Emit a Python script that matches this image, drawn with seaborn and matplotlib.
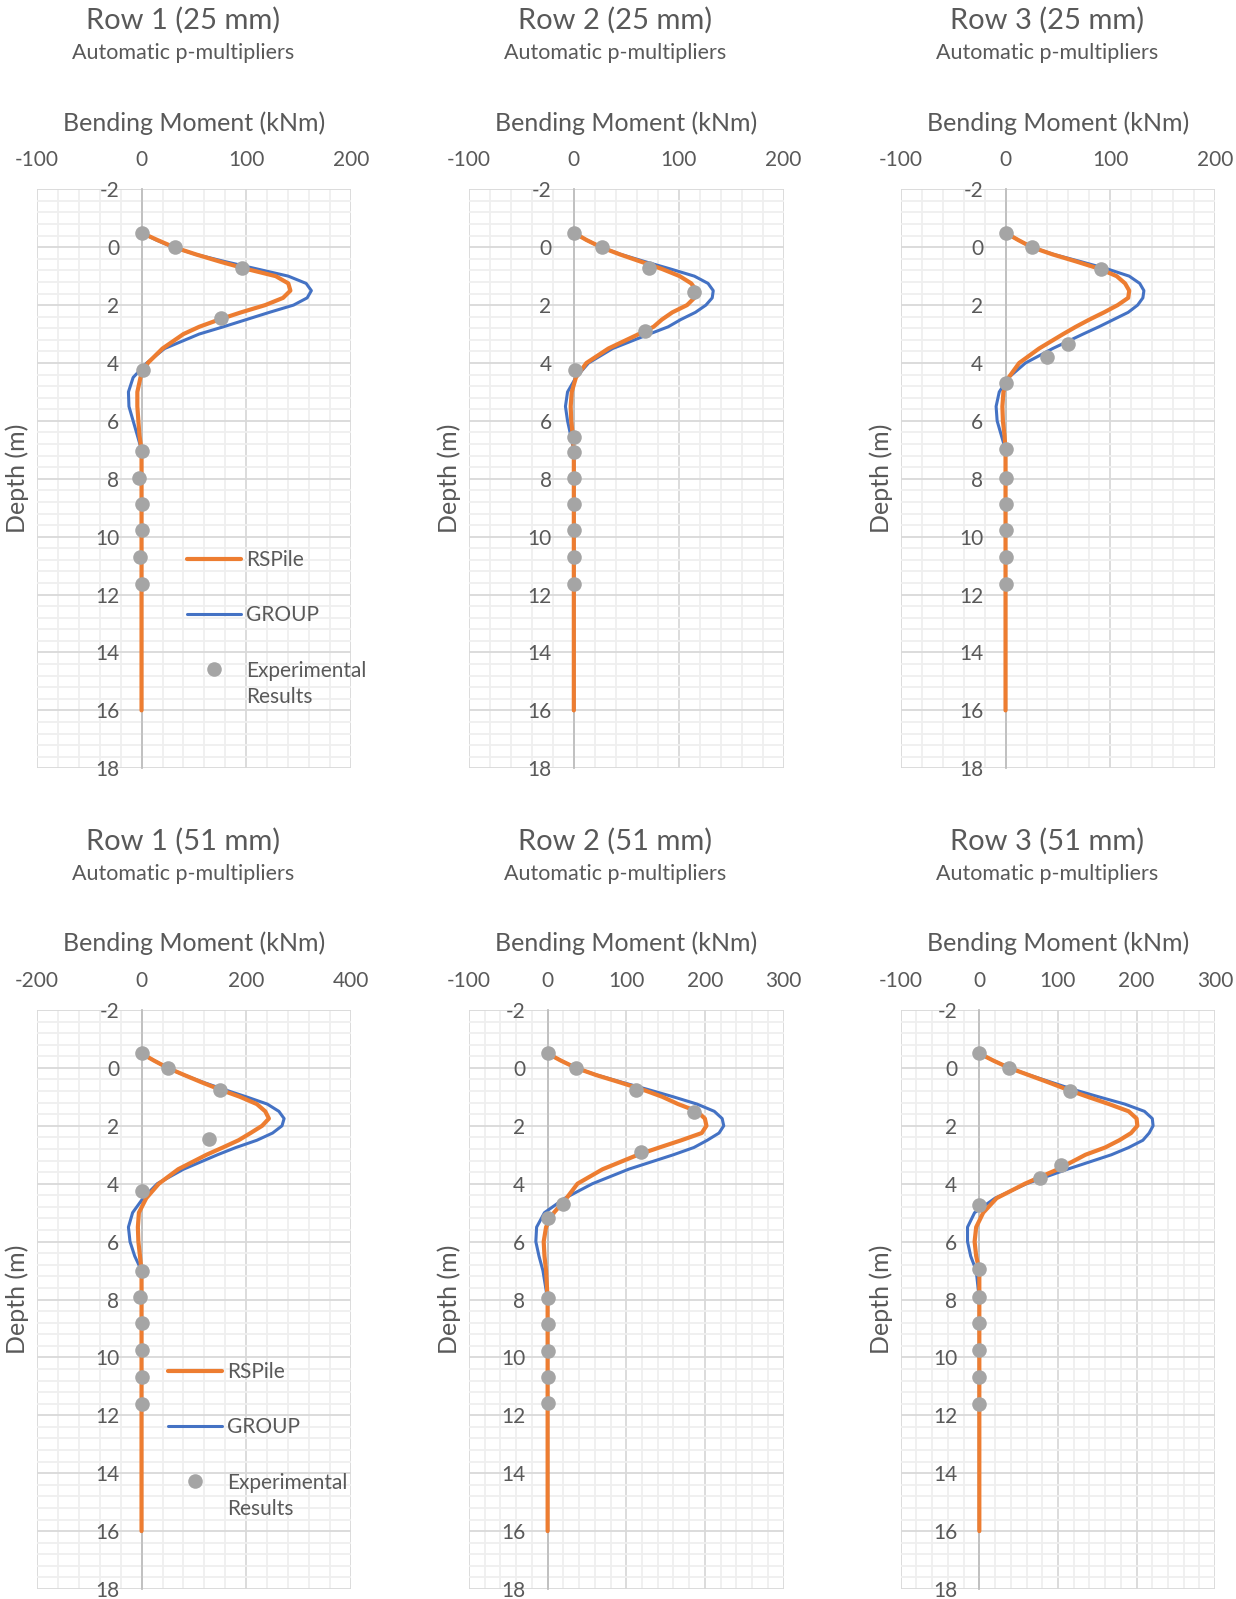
import matplotlib
matplotlib.use("Agg")
import matplotlib.pyplot as plt
import seaborn as sns
import pandas as pd
from matplotlib.ticker import MultipleLocator
from matplotlib.legend_handler import HandlerPathCollection

# depth grid of the model curves (m)
depth_model = [-0.5, -0.25, 0, 0.25, 0.5, 0.75, 1.0, 1.25, 1.5, 1.75, 2.0, 2.25, 2.5,
               2.75, 3.0, 3.5, 4.0, 4.5, 5.0, 5.5, 6.0, 6.5, 7.0, 8.0, 16.0]

# RSPile bending moments (kNm)
rspile_r1_25 = [0, 15, 31, 52, 75, 100, 128, 140, 142, 135, 118, 95, 74, 55, 40, 20, 6, -1, -4, -4, -3, -2, 0, 0, 0]
rspile_r2_25 = [0, 12, 26, 44, 64, 84, 101, 112, 117, 115, 108, 94, 84, 76, 62, 33, 12, 2, -2, -3, -2.5, -1, 0, 0, 0]
rspile_r3_25 = [0, 12, 25, 45, 68, 90, 106, 114, 118, 117, 107, 94, 80, 67, 55, 32, 13, 3, -2, -3, -2.5, -1, 0, 0, 0]
rspile_r1_51 = [0, 24, 50, 82, 115, 150, 188, 220, 236, 243, 230, 208, 185, 155, 124, 70, 33, 9, -5, -7, -6, -3, 0, 0, 0]
rspile_r2_51 = [0, 17, 36, 62, 92, 121, 146, 166, 190, 200, 202, 196, 170, 142, 115, 70, 38, 24, 8, -2, -5, -4, -2, 0, 0]
rspile_r3_51 = [0, 18, 38, 63, 88, 112, 138, 165, 190, 200, 201, 193, 178, 160, 135, 100, 58, 22, 5, -4, -6, -4, 0, 0, 0]

# GROUP bending moments (kNm)
group_r1_25 = [0, 14, 30, 52, 80, 110, 140, 157, 162, 158, 145, 122, 100, 78, 55, 22, 5, -8, -12.5, -12, -8, -4, 0, 0, 0]
group_r2_25 = [0, 12, 26, 45, 68, 92, 115, 128, 133, 132, 126, 116, 102, 90, 72, 37, 14, 2, -6, -8, -6, -3, 0, 0, 0]
group_r3_25 = [0, 12, 25, 46, 72, 97, 118, 128, 132, 131, 126, 117, 103, 89, 74, 45, 19, 3, -6, -9, -8, -4, 0, 0, 0]
group_r1_51 = [0, 24, 50, 82, 118, 158, 200, 240, 262, 272, 268, 250, 220, 180, 145, 80, 30, 3, -17, -25, -22, -13, 0, 0, 0]
group_r2_51 = [0, 17, 36, 63, 95, 128, 160, 190, 212, 222, 224, 218, 203, 186, 160, 103, 57, 22, -4, -14, -15, -11, -6, 0, 0]
group_r3_51 = [0, 18, 38, 64, 92, 120, 152, 185, 210, 220, 221, 216, 208, 190, 168, 112, 60, 20, -6, -15, -15, -11, -4, 0, 0]

# experimental results
exp_depth_r1_25 = [-0.5, 0, 0.72, 2.43, 4.24, 7.04, 7.96, 8.87, 9.76, 10.71, 11.63]
exp_mom_r1_25 = [0, 32, 96, 76, 1, 0, -2, 0, 0, -1, 0]
exp_depth_r2_25 = [-0.5, 0, 0.73, 1.54, 2.89, 4.25, 6.55, 7.07, 7.96, 8.87, 9.76, 10.71, 11.63]
exp_mom_r2_25 = [0, 26.5, 72, 115, 68, 1, 0, 0, 0, 0, 0, 0, 0]
exp_depth_r3_25 = [-0.5, 0, 0.75, 3.33, 3.78, 4.68, 6.98, 7.96, 8.87, 9.76, 10.71, 11.63]
exp_mom_r3_25 = [0, 25, 91, 60, 40, 0, 0, 0, 0, 0, 0, 0]
exp_depth_r1_51 = [-0.5, 0, 0.75, 2.46, 4.25, 7.03, 7.92, 8.82, 9.74, 10.66, 11.6]
exp_mom_r1_51 = [0, 50, 149, 129, 0, 0, -3, 0, 0, 0, 0]
exp_depth_r2_51 = [-0.5, 0, 0.77, 1.53, 2.9, 4.71, 5.17, 7.94, 8.84, 9.77, 10.67, 11.57]
exp_mom_r2_51 = [0, 36, 112, 186, 119, 19.5, 0, 0, 0, 0, 0, 0]
exp_depth_r3_51 = [-0.5, 0, 0.8, 3.37, 3.82, 4.74, 6.96, 7.92, 8.82, 9.74, 10.66, 11.6]
exp_mom_r3_51 = [0, 38, 115, 104, 77, 0, 0, 0, 0, 0, 0, 0]

titles = ["Row 1 (25 mm)", "Row 2 (25 mm)", "Row 3 (25 mm)",
          "Row 1 (51 mm)", "Row 2 (51 mm)", "Row 3 (51 mm)"]
x_limits = [(-100, 200), (-100, 200), (-100, 200), (-200, 400), (-100, 300), (-100, 300)]
x_major = [100, 100, 100, 200, 100, 100]

panels = [
    (rspile_r1_25, group_r1_25, exp_depth_r1_25, exp_mom_r1_25),
    (rspile_r2_25, group_r2_25, exp_depth_r2_25, exp_mom_r2_25),
    (rspile_r3_25, group_r3_25, exp_depth_r3_25, exp_mom_r3_25),
    (rspile_r1_51, group_r1_51, exp_depth_r1_51, exp_mom_r1_51),
    (rspile_r2_51, group_r2_51, exp_depth_r2_51, exp_mom_r2_51),
    (rspile_r3_51, group_r3_51, exp_depth_r3_51, exp_mom_r3_51),
]

ORANGE = "#ED7D31"
BLUE = "#4472C4"
GREY = "#A5A5A5"
TXT = "#595959"
FS_TICK = 15

sns.set_style("white")
plt.rcParams["font.family"] = ["Lato", "DejaVu Sans"]
plt.rcParams["axes.unicode_minus"] = False

W, H = 1236, 1599
fig = plt.figure(figsize=(W / 100, H / 100), dpi=100)

col_left = [36.7, 469.0, 900.7]
row_top = [189.3, 1010.0]
ax_w, ax_h = 314.5, 579.0

for i, (rsp, grp, ed, em) in enumerate(panels):
    r, c = divmod(i, 3)
    left = col_left[c]
    top = row_top[r]
    ax = fig.add_axes([left / W, 1 - (top + ax_h) / H, ax_w / W, ax_h / H])

    model = pd.DataFrame({"depth": depth_model, "RSPile": rsp, "GROUP": grp})
    expdf = pd.DataFrame({"depth": ed, "moment": em})

    sns.lineplot(data=model, x="GROUP", y="depth", sort=False, estimator=None,
                 color=BLUE, linewidth=2.2, ax=ax, label="GROUP", zorder=3)
    sns.lineplot(data=model, x="RSPile", y="depth", sort=False, estimator=None,
                 color=ORANGE, linewidth=3.0, ax=ax, label="RSPile", zorder=4)
    sns.scatterplot(data=expdf, x="moment", y="depth", color=GREY, s=110,
                    linewidth=0, ax=ax, label="Experimental\nResults", zorder=5)

    ax.set_xlim(*x_limits[i])
    ax.set_ylim(18, -2)
    ax.xaxis.set_major_locator(MultipleLocator(x_major[i]))
    ax.xaxis.set_minor_locator(MultipleLocator(x_major[i] / 5))
    ax.yaxis.set_major_locator(MultipleLocator(2))
    ax.yaxis.set_minor_locator(MultipleLocator(0.4))
    ax.grid(which="major", color="#D9D9D9", linewidth=1.3, zorder=1)
    ax.grid(which="minor", color="#EFEFEF", linewidth=1.3, zorder=0)
    ax.set_axisbelow(True)

    for s in ["top", "right", "bottom"]:
        ax.spines[s].set_visible(False)
    ax.spines["left"].set_position(("data", 0))
    ax.spines["left"].set_color("#BFBFBF")
    ax.spines["left"].set_linewidth(1.3)

    ax.xaxis.tick_top()
    ax.tick_params(axis="both", which="both", length=0, labelsize=FS_TICK, labelcolor=TXT)
    ax.tick_params(axis="x", pad=14)
    ax.tick_params(axis="y", pad=16)

    ax.xaxis.set_label_position("top")
    ax.set_xlabel("Bending Moment (kNm)", fontsize=18, color=TXT)
    ax.xaxis.label.set_va("center")
    ax.xaxis.set_label_coords(0.5, 1 + 66.3 / ax_h)
    ax.set_ylabel("Depth (m)", fontsize=18, color=TXT)
    ax.yaxis.label.set_va("center")
    ax.yaxis.set_label_coords(-19.5 / ax_w, 0.5)

    ax.text(0.465, 1 + 169 / ax_h, titles[i], transform=ax.transAxes, ha="center",
            va="center", fontsize=21, color=TXT)
    ax.text(0.465, 1 + 136 / ax_h, "Automatic p-multipliers", transform=ax.transAxes,
            ha="center", va="center", fontsize=15.5, color=TXT)

    if c == 0:
        hs, ls = ax.get_legend_handles_labels()
        order = [1, 0, 2]
        leg_y = 0.377 if r == 0 else 0.392
        leg_x = 0.478 if r == 0 else 0.417
        leg = ax.legend([hs[k] for k in order], [ls[k] for k in order], frameon=False,
                        loc="upper left", bbox_to_anchor=(leg_x, leg_y), fontsize=FS_TICK,
                        labelcolor=TXT, handlelength=2.6, handletextpad=0.25,
                        labelspacing=1.7, borderpad=0, borderaxespad=0,
                        handler_map={hs[2]: HandlerPathCollection(yoffsets=[1.6])})
        leg.get_texts()[2].set_linespacing(1.4)
    else:
        ax.get_legend().remove()

fig.savefig("out.png", dpi=100)
